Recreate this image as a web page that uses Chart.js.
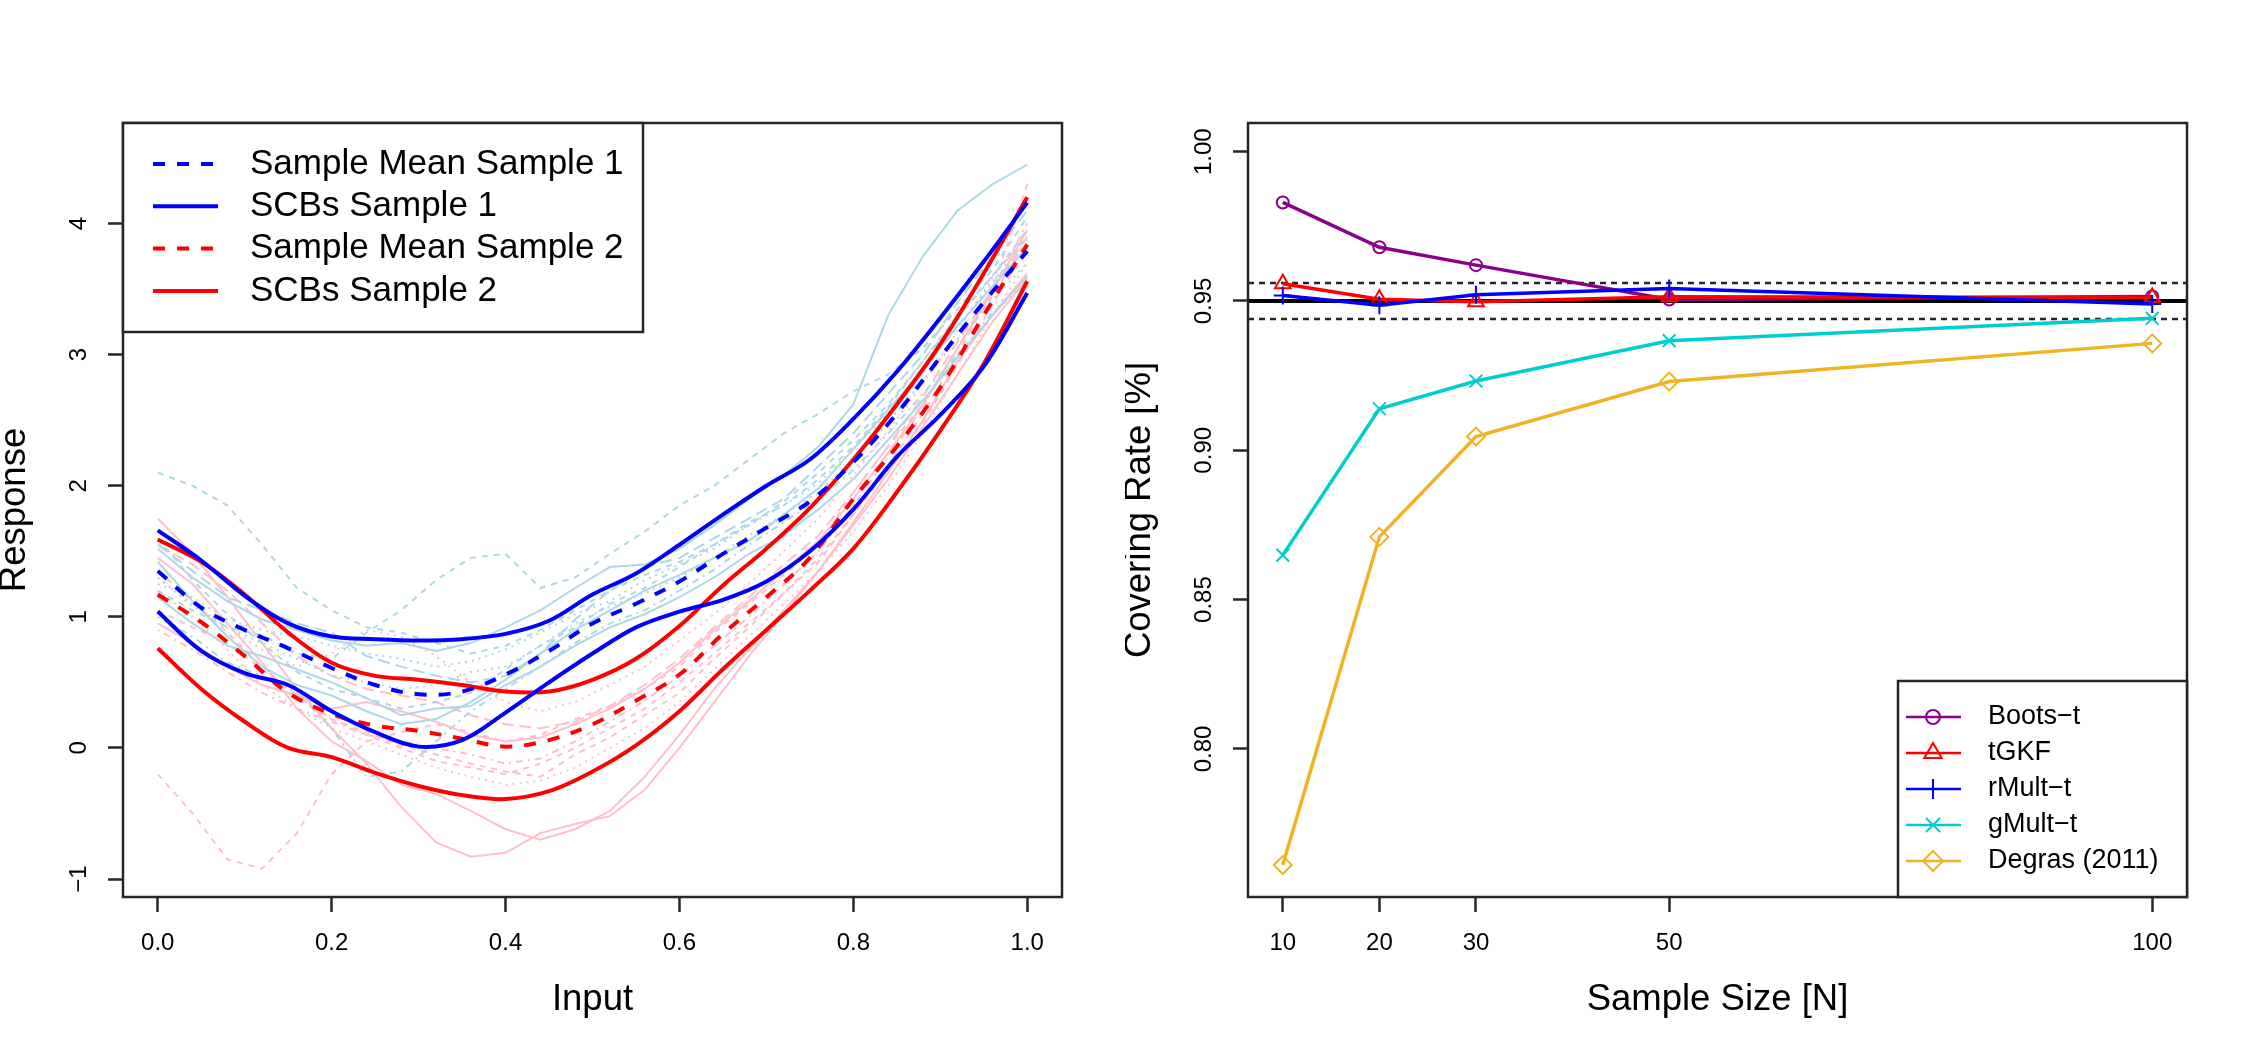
<!DOCTYPE html>
<html>
<head>
<meta charset="utf-8">
<title>Sample means, SCBs and covering rates</title>
<script src="https://cdn.jsdelivr.net/npm/chart.js@4.4.1/dist/chart.umd.min.js"></script>
<style>
  html, body { margin: 0; padding: 0; background: #fff; }
  #page { position: relative; width: 2250px; height: 1050px; overflow: hidden; }
  canvas { position: absolute; top: 0; }
  #leftChart { left: 0; }
  #rightChart { left: 1125px; }
</style>
</head>
<body>
<div id="page">
  <canvas id="leftChart" width="1125" height="1050"></canvas>
  <canvas id="rightChart" width="1125" height="1050"></canvas>
</div>
<script>
'use strict';

// ---- left panel: smooth estimates (0.05 grid) ----
const inputGrid = [0, 0.05, 0.1, 0.15, 0.2, 0.25, 0.3, 0.35, 0.4, 0.45, 0.5,
  0.55, 0.6, 0.65, 0.7, 0.75, 0.8, 0.85, 0.9, 0.95, 1];
const meanSample1 = [1.35, 1.07, 0.90, 0.76, 0.61, 0.48, 0.41, 0.43, 0.56, 0.74, 0.95,
  1.10, 1.27, 1.48, 1.68, 1.88, 2.18, 2.55, 2.98, 3.40, 3.79];
const upperSample1 = [1.66, 1.43, 1.16, 0.95, 0.85, 0.83, 0.82, 0.83, 0.87, 0.97, 1.17,
  1.33, 1.55, 1.78, 2.00, 2.20, 2.51, 2.87, 3.28, 3.71, 4.16];
const lowerSample1 = [1.04, 0.74, 0.57, 0.48, 0.28, 0.12, 0.01, 0.06, 0.27, 0.50, 0.72,
  0.92, 1.04, 1.13, 1.27, 1.50, 1.82, 2.22, 2.54, 2.91, 3.47];
const meanSample2 = [1.17, 0.96, 0.70, 0.42, 0.26, 0.17, 0.13, 0.07, 0.01, 0.06, 0.18,
  0.36, 0.56, 0.87, 1.15, 1.45, 1.90, 2.30, 2.75, 3.30, 3.84];
const upperSample2 = [1.59, 1.42, 1.17, 0.88, 0.65, 0.55, 0.52, 0.48, 0.43, 0.43, 0.52,
  0.68, 0.93, 1.24, 1.52, 1.83, 2.20, 2.62, 3.08, 3.62, 4.20];
const lowerSample2 = [0.76, 0.45, 0.20, 0.00, -0.07, -0.19, -0.29, -0.36, -0.39, -0.33, -0.18,
  0.02, 0.28, 0.60, 0.90, 1.20, 1.52, 1.95, 2.42, 2.93, 3.56];

// ---- left panel: observed curves (0.04 grid) ----
const curveGrid = [0, 0.04, 0.08, 0.12, 0.16, 0.2, 0.24, 0.28, 0.32, 0.36, 0.4, 0.44, 0.48,
  0.52, 0.56, 0.6, 0.64, 0.68, 0.72, 0.76, 0.8, 0.84, 0.88, 0.92, 0.96, 1];
const s1c1 = [1.52, 1.30, 1.12, 0.98, 0.90, 0.82, 0.78, 0.80, 0.74, 0.80, 0.92, 1.05, 1.22,
  1.38, 1.40, 1.52, 1.70, 1.90, 2.08, 2.30, 2.62, 3.30, 3.75, 4.10, 4.30, 4.45];
const s1c2 = [2.10, 2.00, 1.85, 1.55, 1.22, 1.05, 0.92, 0.88, 0.80, 0.72, 0.78, 0.90, 1.05,
  1.20, 1.32, 1.42, 1.55, 1.72, 1.85, 2.05, 2.30, 2.60, 2.95, 3.30, 3.60, 3.95];
const s1c3 = [1.20, 1.05, 0.92, 0.86, 0.72, 0.68, 0.88, 1.05, 1.28, 1.45, 1.48, 1.22, 1.30,
  1.48, 1.65, 1.85, 2.00, 2.20, 2.40, 2.55, 2.72, 2.85, 3.05, 3.35, 3.65, 4.05];
const s1c4 = [1.30, 1.08, 0.92, 0.80, 0.68, 0.55, 0.50, 0.45, 0.48, 0.58, 0.62, 0.78, 0.95,
  1.08, 1.18, 1.30, 1.45, 1.62, 1.78, 1.95, 2.20, 2.48, 2.80, 3.12, 3.42, 3.70];
const s1c5 = [1.00, 0.85, 0.65, 0.55, 0.42, 0.15, -0.22, -0.18, 0.05, 0.28, 0.45, 0.62, 0.80,
  0.95, 1.05, 1.20, 1.36, 1.55, 1.72, 1.90, 2.12, 2.40, 2.70, 3.00, 3.32, 3.55];
const s1c6 = [1.42, 1.12, 0.85, 0.62, 0.48, 0.40, 0.28, 0.18, 0.22, 0.35, 0.52, 0.72, 0.90,
  1.05, 1.20, 1.32, 1.45, 1.58, 1.78, 1.98, 2.28, 2.58, 2.88, 3.22, 3.52, 3.82];
const s1c7 = [1.55, 1.35, 1.15, 1.05, 0.95, 0.88, 0.70, 0.62, 0.55, 0.50, 0.55, 0.72, 0.98,
  1.20, 1.38, 1.45, 1.60, 1.75, 1.90, 2.15, 2.40, 2.70, 3.00, 3.40, 3.75, 4.10];
const s1c8 = [1.25, 1.15, 0.98, 0.90, 0.85, 0.78, 0.72, 0.68, 0.62, 0.66, 0.75, 0.88, 1.02,
  1.12, 1.28, 1.40, 1.52, 1.70, 1.85, 2.02, 2.28, 2.55, 2.90, 3.22, 3.55, 3.85];
const s1c9 = [1.60, 1.28, 1.02, 0.80, 0.58, 0.45, 0.38, 0.30, 0.35, 0.42, 0.60, 0.78, 0.92,
  1.10, 1.22, 1.38, 1.55, 1.70, 1.88, 2.10, 2.35, 2.62, 2.95, 3.28, 3.60, 3.90];
const s1c10 = [1.15, 0.95, 0.78, 0.70, 0.60, 0.50, 0.38, 0.25, 0.30, 0.32, 0.48, 0.62, 0.78,
  0.92, 1.02, 1.15, 1.30, 1.48, 1.62, 1.82, 2.05, 2.35, 2.65, 2.98, 3.30, 3.60];
const s2c1 = [-0.20, -0.50, -0.85, -0.92, -0.65, -0.20, 0.05, 0.12, 0.18, 0.12, 0.05, 0.10, 0.22,
  0.32, 0.45, 0.62, 0.88, 1.10, 1.32, 1.55, 1.95, 2.30, 2.62, 3.05, 3.45, 3.88];
const s2c2 = [1.75, 1.48, 1.15, 0.80, 0.45, 0.15, -0.12, -0.45, -0.72, -0.83, -0.80, -0.65, -0.58,
  -0.52, -0.32, 0.00, 0.35, 0.70, 1.02, 1.35, 1.72, 2.10, 2.50, 2.95, 3.30, 3.62];
const s2c3 = [1.45, 1.25, 0.95, 0.65, 0.30, 0.05, -0.10, -0.28, -0.35, -0.48, -0.62, -0.70, -0.62,
  -0.48, -0.22, 0.10, 0.45, 0.75, 1.05, 1.35, 1.70, 2.05, 2.45, 2.85, 3.25, 3.58];
const s2c4 = [1.30, 1.10, 0.92, 0.75, 0.62, 0.72, 0.90, 0.85, 0.70, 0.50, 0.35, 0.28, 0.35,
  0.48, 0.62, 0.82, 1.02, 1.25, 1.50, 1.75, 2.08, 2.42, 2.78, 3.18, 3.58, 3.95];
const s2c5 = [0.90, 0.75, 0.58, 0.42, 0.30, 0.20, 0.10, 0.05, 0.00, -0.05, -0.12, -0.08, 0.05,
  0.20, 0.36, 0.55, 0.78, 1.00, 1.25, 1.50, 1.85, 2.22, 2.60, 3.05, 3.50, 4.00];
const s2c6 = [1.05, 0.92, 0.80, 0.60, 0.38, 0.22, 0.10, 0.00, -0.10, -0.15, -0.20, -0.12, 0.00,
  0.15, 0.30, 0.50, 0.72, 0.95, 1.18, 1.42, 1.78, 2.15, 2.55, 3.00, 3.50, 4.30];
const s2c7 = [1.55, 1.40, 1.20, 0.95, 0.70, 0.55, 0.45, 0.40, 0.35, 0.25, 0.18, 0.15, 0.20,
  0.32, 0.48, 0.68, 0.92, 1.15, 1.40, 1.62, 1.95, 2.30, 2.68, 3.10, 3.50, 3.90];
const s2c8 = [1.20, 1.00, 0.75, 0.48, 0.30, 0.15, 0.05, -0.05, -0.15, -0.22, -0.28, -0.25, -0.15,
  0.00, 0.15, 0.35, 0.60, 0.85, 1.10, 1.35, 1.65, 2.00, 2.40, 2.85, 3.30, 3.70];
const s2c9 = [0.95, 0.80, 0.62, 0.48, 0.40, 0.30, 0.35, 0.28, 0.20, 0.10, 0.05, 0.08, 0.18,
  0.30, 0.45, 0.65, 0.90, 1.12, 1.35, 1.58, 1.90, 2.25, 2.62, 3.05, 3.48, 3.95];
const s2c10 = [1.35, 1.12, 0.88, 0.62, 0.40, 0.22, 0.12, 0.02, -0.05, -0.12, -0.18, -0.22, -0.05,
  0.08, 0.25, 0.42, 0.68, 0.92, 1.18, 1.45, 1.78, 2.12, 2.48, 2.92, 3.38, 3.82];
const sample1Curves = [s1c1, s1c2, s1c3, s1c4, s1c5, s1c6, s1c7, s1c8, s1c9, s1c10];
const sample2Curves = [s2c1, s2c2, s2c3, s2c4, s2c5, s2c6, s2c7, s2c8, s2c9, s2c10];
const sample1Lty = ['solid', 'dashed', 'dashed', 'dotted', 'dotdash', 'solid', 'longdash', 'dotted', 'dashed', 'solid'];
const sample2Lty = ['dashed', 'solid', 'solid', 'dotted', 'dotdash', 'dashed', 'longdash', 'dotted', 'solid', 'dashed'];

const inputTicks = [0, 0.2, 0.4, 0.6, 0.8, 1];
const responseTicks = [-1, 0, 1, 2, 3, 4];

// ---- right panel: covering rates ----
const sampleSizes = [10, 20, 30, 50, 100];
const bootsT = [0.983, 0.968, 0.962, 0.9505, 0.9515];
const tGKF = [0.9558, 0.9506, 0.9497, 0.9514, 0.9512];
const rMultT = [0.9518, 0.9486, 0.9521, 0.9542, 0.9490];
const gMultT = [0.8649, 0.9139, 0.9232, 0.9367, 0.9442];
const degras = [0.7611, 0.8710, 0.9046, 0.9230, 0.9358];
const nominalLevel = 0.95;
const levelBand = [0.944, 0.956];
const sizeTicks = [10, 20, 30, 50, 100];
const rateTicks = [0.80, 0.85, 0.90, 0.95, 1.00];

const FONT = "'Liberation Sans', Arial, Helvetica, sans-serif";
const INK = '#262626';
const dashes = { solid: [], dashed: [6, 6], dotted: [2, 5], dotdash: [2, 5, 7, 5], longdash: [12, 6] };

function pts(xs, ys) {
  return xs.map((x, i) => ({ x, y: ys[i] }));
}

// R-style frame round the plot region
const frame = {
  id: 'frame',
  afterDatasetsDraw(chart) {
    const { ctx, chartArea: a } = chart;
    ctx.save();
    ctx.strokeStyle = INK;
    ctx.lineWidth = 2.5;
    ctx.strokeRect(a.left, a.top, a.right - a.left, a.bottom - a.top);
    ctx.restore();
  }
};

// horizontal reference lines (nominal level and its band)
const refLines = {
  id: 'refLines',
  beforeDatasetsDraw(chart, args, opts) {
    if (!opts.solid) return;
    const { ctx, chartArea: a, scales: { y } } = chart;
    ctx.save();
    ctx.strokeStyle = INK;
    ctx.lineWidth = 2.5;
    ctx.setLineDash([6, 5]);
    opts.dashed.forEach(v => {
      const py = y.getPixelForValue(v);
      ctx.beginPath(); ctx.moveTo(a.left, py); ctx.lineTo(a.right, py); ctx.stroke();
    });
    ctx.setLineDash([]);
    ctx.strokeStyle = '#000';
    ctx.lineWidth = 4;
    opts.solid.forEach(v => {
      const py = y.getPixelForValue(v);
      ctx.beginPath(); ctx.moveTo(a.left, py); ctx.lineTo(a.right, py); ctx.stroke();
    });
    ctx.restore();
  }
};

function drawMarker(ctx, style, r, x, y) {
  if (Chart.helpers && Chart.helpers.drawPoint) {
    Chart.helpers.drawPoint(ctx, { pointStyle: style, radius: r, rotation: 0, borderWidth: 2 }, x, y);
    return;
  }
  ctx.beginPath();
  ctx.arc(x, y, r, 0, 2 * Math.PI);
  ctx.stroke();
}

// legend box in the style of R's legend()
const boxLegend = {
  id: 'boxLegend',
  afterDraw(chart, args, opts) {
    if (!opts.width) return;
    const { ctx, chartArea: a } = chart;
    const left = opts.corner === 'topleft' ? a.left : a.right - opts.width;
    const top = opts.corner === 'topleft' ? a.top : a.bottom - opts.height;
    ctx.save();
    ctx.fillStyle = '#fff';
    ctx.fillRect(left, top, opts.width, opts.height);
    ctx.strokeStyle = INK;
    ctx.lineWidth = 2.5;
    ctx.strokeRect(left, top, opts.width, opts.height);
    const items = chart.data.datasets.filter(d => d.legendText);
    items.forEach((d, i) => {
      const y = top + opts.firstRow + i * opts.rowGap;
      ctx.strokeStyle = d.borderColor;
      ctx.lineWidth = opts.lineWidth;
      ctx.setLineDash(d.borderDash || []);
      ctx.beginPath();
      ctx.moveTo(left + opts.lineFrom, y);
      ctx.lineTo(left + opts.lineTo, y);
      ctx.stroke();
      ctx.setLineDash([]);
      if (d.pointStyle) {
        ctx.fillStyle = 'rgba(0,0,0,0)';
        ctx.lineWidth = 2;
        drawMarker(ctx, d.pointStyle, d.legendRadius, left + opts.markerX, y);
      }
      ctx.fillStyle = '#000';
      ctx.font = opts.fontSize + 'px ' + FONT;
      ctx.textAlign = 'left';
      ctx.textBaseline = 'middle';
      ctx.fillText(d.legendText, left + opts.textX, y);
    });
    ctx.restore();
  }
};

function axis(min, max, tickValues, fmt, labelPad, title, titlePad, isY) {
  return {
    type: 'linear',
    min, max,
    afterBuildTicks: s => { s.ticks = tickValues.map(v => ({ value: v })); },
    afterFit: s => { if (isY) s.width = 123; else s.height = 153; },
    grid: { drawOnChartArea: false, drawTicks: true, tickLength: 15, tickWidth: 2.5, tickColor: INK },
    border: { display: false },
    ticks: {
      color: '#000',
      font: { family: FONT, size: 24, lineHeight: 1.2 },
      padding: labelPad,
      autoSkip: false,
      minRotation: isY ? 90 : 0,
      maxRotation: isY ? 90 : 0,
      crossAlign: 'center',
      callback: fmt
    },
    title: {
      display: true,
      text: title,
      color: '#000',
      font: { family: FONT, size: 36.5, lineHeight: 1 },
      padding: titlePad
    }
  };
}

const commonOptions = {
  responsive: false,
  devicePixelRatio: 1,
  animation: false,
  events: [],
  layout: { padding: { top: 123, right: 63, bottom: 0, left: 0 } },
  elements: { line: { fill: false } }
};

// ---- left chart ----
const leftSets = [];
function addCurves(list, styles, color) {
  list.forEach((ys, i) => {
    leftSets.push({
      data: pts(curveGrid, ys), borderColor: color, borderWidth: 2,
      borderDash: dashes[styles[i]], pointRadius: 0, tension: 0, order: 2
    });
  });
}
addCurves(sample1Curves, sample1Lty, '#ADD8E6');
addCurves(sample2Curves, sample2Lty, '#FFC0CB');
function bold(ys, color, dash, legendText) {
  return { data: pts(inputGrid, ys), borderColor: color, borderWidth: 4, borderDash: dash,
    pointRadius: 0, tension: 0.35, order: 1, legendText };
}
leftSets.push(bold(meanSample1, '#0000FF', [12, 12], 'Sample Mean Sample 1'));
leftSets.push(bold(upperSample1, '#0000FF', [], 'SCBs Sample 1'));
leftSets.push(bold(lowerSample1, '#0000FF', [], ''));
leftSets.push(bold(meanSample2, '#FF0000', [12, 12], 'Sample Mean Sample 2'));
leftSets.push(bold(upperSample2, '#FF0000', [], 'SCBs Sample 2'));
leftSets.push(bold(lowerSample2, '#FF0000', [], ''));

new Chart(document.getElementById('leftChart'), {
  type: 'line',
  data: { datasets: leftSets },
  options: Object.assign({}, commonOptions, {
    scales: {
      x: axis(-0.04, 1.04, inputTicks, v => v.toFixed(1), 31, 'Input', { top: 0, bottom: 32 }, false),
      y: axis(-1.137, 4.767, responseTicks, v => String(v).replace('-', '\u2212'), 15, 'Response', { top: -3, bottom: 0 }, true)
    },
    plugins: {
      legend: { display: false },
      tooltip: { enabled: false },
      boxLegend: { corner: 'topleft', width: 520, height: 209, firstRow: 41, rowGap: 42.3,
        lineFrom: 30, lineTo: 95, textX: 127, fontSize: 35, lineWidth: 4 }
    }
  }),
  plugins: [frame, boxLegend]
});

// ---- right chart ----
const methods = [
  { name: 'Boots\u2212t', values: bootsT, color: '#8B008B', style: 'circle', r: 6, lr: 7 },
  { name: 'tGKF', values: tGKF, color: '#FF0000', style: 'triangle', r: 9, lr: 10 },
  { name: 'rMult\u2212t', values: rMultT, color: '#0000FF', style: 'cross', r: 9, lr: 10 },
  { name: 'gMult\u2212t', values: gMultT, color: '#00CDCD', style: 'crossRot', r: 9, lr: 10 },
  { name: 'Degras (2011)', values: degras, color: '#EEB422', style: 'rectRot', r: 9, lr: 10 }
];
const rightSets = methods.map((m, i) => ({
  data: pts(sampleSizes, m.values),
  borderColor: m.color,
  borderWidth: 3.5,
  tension: 0,
  pointStyle: m.style,
  pointRadius: m.r,
  pointBorderWidth: 2,
  pointBorderColor: m.color,
  pointBackgroundColor: 'rgba(0,0,0,0)',
  order: methods.length - i,
  legendText: m.name,
  legendRadius: m.lr
}));

new Chart(document.getElementById('rightChart'), {
  type: 'line',
  data: { datasets: rightSets },
  options: Object.assign({}, commonOptions, {
    scales: {
      x: axis(6.4, 103.6, sizeTicks, v => String(v), 31, 'Sample Size [N]', { top: 0, bottom: 32 }, false),
      y: axis(0.7504, 1.0096, rateTicks, v => v.toFixed(2), 5, 'Covering Rate [%]', { top: -3, bottom: 0 }, true)
    },
    plugins: {
      legend: { display: false },
      tooltip: { enabled: false },
      refLines: { solid: [nominalLevel], dashed: levelBand },
      boxLegend: { corner: 'bottomright', width: 289, height: 216, firstRow: 36, rowGap: 36,
        lineFrom: 8, lineTo: 63, markerX: 35, textX: 90, fontSize: 27, lineWidth: 2.5 }
    }
  }),
  plugins: [refLines, frame, boxLegend]
});
</script>
</body>
</html>
